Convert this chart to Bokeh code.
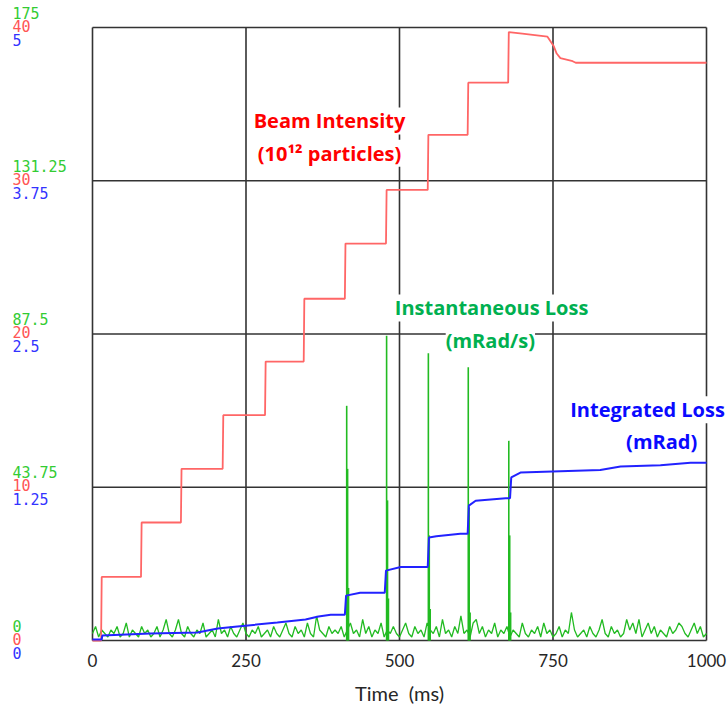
from bokeh.plotting import figure
from bokeh.models import Range1d, Label
from bokeh.embed import file_html
from bokeh.resources import INLINE

# ---------------- data ----------------
# Beam intensity (1e12 particles) vs time (ms)
beam_t = [0, 14, 15, 79, 80, 144, 145, 212, 213, 281, 282, 344, 345, 411, 412, 478, 479,
          546, 547, 611, 612, 677, 678, 700, 741, 751, 756, 762, 782, 787, 1000]
beam_v = [0, 0, 4.15, 4.15, 7.7, 7.7, 11.2, 11.2, 14.7, 14.7, 18.2, 18.2, 22.3, 22.3, 25.9,
          25.9, 29.4, 29.4, 33.0, 33.0, 36.4, 36.4, 39.7, 39.6, 39.4, 38.8, 38.3, 38.0, 37.8,
          37.7, 37.7]

# Integrated loss (mRad)
loss_t = [0, 15, 16, 94, 171, 204, 236, 301, 347, 368, 388, 411, 413, 436, 476, 478, 502,
          546, 548, 560, 599, 611, 613, 624, 673, 680, 682, 697, 762, 827, 860, 925, 974, 1000]
loss_v = [0.008, 0.008, 0.04, 0.057, 0.065, 0.098, 0.114, 0.147, 0.171, 0.195, 0.21, 0.21,
          0.366, 0.39, 0.39, 0.57, 0.60, 0.60, 0.84, 0.85, 0.87, 0.87, 1.10, 1.14, 1.16, 1.16,
          1.33, 1.37, 1.38, 1.39, 1.42, 1.43, 1.45, 1.45]

# Instantaneous loss (mRad/s): baseline samples every 5 ms
inst_t = list(range(0, 1001, 5))
inst_v = [2, 4, 1, 3, 2, 1, 3, 2, 4, 1, 2, 5, 1, 3, 2, 1, 4, 2, 3, 1,
          2, 4, 1, 3, 6, 2, 1, 3, 6, 2, 1, 4, 2, 1, 3, 2, 5, 1, 2, 3,
          1, 6, 2, 3, 1, 4, 2, 1, 3, 5, 2, 1, 3, 2, 4, 1, 2, 3, 1, 4,
          2, 1, 3, 5, 2, 1, 4, 2, 3, 1, 5, 2, 1, 7, 3, 2, 1, 4, 2, 3,
          2, 4, 1, 3, 5, 2, 3, 1, 6, 2, 4, 1, 3, 2, 5, 1, 3, 2, 4, 2,
          1, 3, 5, 2, 1, 4, 2, 3, 1, 5, 3, 2, 4, 1, 6, 2, 3, 1, 4, 2,
          7, 2, 3, 1, 5, 6, 2, 4, 1, 3, 2, 5, 1, 3, 2, 4, 1, 3, 2, 1,
          5, 2, 1, 3, 2, 4, 1, 5, 2, 3, 1, 2, 4, 1, 3, 2, 8, 3, 1, 2,
          3, 1, 4, 2, 1, 3, 6, 2, 1, 4, 2, 3, 1, 2, 6, 3, 5, 2, 6, 1,
          3, 5, 2, 4, 1, 3, 2, 1, 4, 2, 3, 5, 4, 2, 1, 3, 5, 2, 4, 1,
          2]
# loss spikes at injections
spike_t = [414, 415.5, 417, 479, 480.5, 482, 547, 548.5, 550, 612, 613.5, 615, 678, 679.5, 681]
spike_v = [67, 49, 15, 87, 40, 12, 82, 30, 9, 78, 38, 8, 57, 30, 8]

# scales and tick labels
time_min, time_max = 0, 1000
beam_min, beam_max = 0, 40
inst_max = 175
loss_max = 5
time_ticks = [0, 250, 500, 750, 1000]
time_tick_labels = ["0", "250", "500", "750", "1000"]
beam_ticks = [0, 10, 20, 30, 40]
inst_tick_labels = ["0", "43.75", "87.5", "131.25", "175"]
beam_tick_labels = ["0", "10", "20", "30", "40"]
loss_tick_labels = ["0", "1.25", "2.5", "3.75", "5"]
x_title = "Time\u00a0\u00a0(ms)"

# ---------------- figure ----------------
# The frame spans the whole canvas so that the outside labels are not clipped;
# the data box (0..1000 ms, 0..40) sits at px 92..706 x 27..640.
W, H = 727, 710
px_per_ms = 614 / 1000
px_per_unit = 613 / 40
xr = Range1d(time_min - 92 / px_per_ms, time_max + 21 / px_per_ms)
yr = Range1d(beam_min - 70 / px_per_unit, beam_max + 27 / px_per_unit)

p = figure(width=W, height=H, output_backend="svg", toolbar_location=None,
           x_range=xr, y_range=yr,
           min_border_left=0, min_border_right=0, min_border_top=0, min_border_bottom=0)
k0 = yr.start / beam_max
k1 = yr.end / beam_max
p.extra_y_ranges = {"inst": Range1d(inst_max * k0, inst_max * k1),
                    "loss": Range1d(loss_max * k0, loss_max * k1)}

p.background_fill_color = "white"
p.border_fill_color = "white"
p.outline_line_color = None
p.axis.visible = False
p.grid.visible = False

# grid / box lines at the tick positions
p.segment(x0=time_ticks, y0=[beam_min] * 5, x1=time_ticks, y1=[beam_max] * 5,
          line_color="#333333", line_width=1.6)
p.segment(x0=[time_min] * 5, y0=beam_ticks, x1=[time_max] * 5, y1=beam_ticks,
          line_color="#333333", line_width=1.6)

# ---------------- data lines ----------------
p.line(inst_t, inst_v, y_range_name="inst", line_color="#22bb22", line_width=1.3)
p.segment(x0=spike_t, y0=[0] * len(spike_t), x1=spike_t, y1=spike_v, y_range_name="inst",
          line_color="#22bb22", line_width=1.6)
p.line(beam_t, beam_v, line_color="#ff6666", line_width=1.8)
p.line(loss_t, loss_v, y_range_name="loss", line_color="#2222ff", line_width=2)

# ---------------- bottom tick labels and title ----------------
for tv, txt in zip(time_ticks, time_tick_labels):
    p.add_layout(Label(x=tv, y=beam_min, text=txt, text_color="#262626", text_font="Lato",
                       text_font_size="17px", text_align="center", text_baseline="middle",
                       y_offset=-20))
p.add_layout(Label(x=(time_min + time_max) / 2, y=beam_min, text=x_title, text_color="#262626",
                   text_font="Lato", text_font_size="20px", text_align="center",
                   text_baseline="middle", y_offset=-52))

# ---------------- left tick labels (three stacked scales) ----------------
x_lab = time_min - 80 / px_per_ms
for yv, g_txt, r_txt, b_txt in zip(beam_ticks, inst_tick_labels, beam_tick_labels, loss_tick_labels):
    for txt, col, off in ((g_txt, "#33cc33", 15), (r_txt, "#ff5555", 2), (b_txt, "#3333ff", -12)):
        p.add_layout(Label(x=x_lab, y=yv, text=txt, text_color=col, text_font="DejaVu Sans Mono",
                           text_font_size="15px", text_baseline="middle", text_align="left",
                           y_offset=off))

# ---------------- series annotations ----------------
def note(x, y, txt, col):
    p.add_layout(Label(x=x, y=y, text=txt, text_color=col, text_font="Open Sans",
                       text_font_style="bold", text_font_size="20px", text_align="center",
                       text_baseline="middle", background_fill_color="white",
                       background_fill_alpha=1.0))

note(386, 33.9, "Beam Intensity", "#ff0000")
note(386, 31.8, "(10\u00b9\u00b2 particles)", "#ff0000")
note(650, 21.7, "Instantaneous Loss", "#00b050")
note(648, 19.6, "(mRad/s)", "#00b050")
note(904, 15.05, "Integrated Loss", "#0a0aff")
note(927, 12.96, "(mRad)", "#0a0aff")

open("out.html", "w").write(file_html(p, INLINE))
